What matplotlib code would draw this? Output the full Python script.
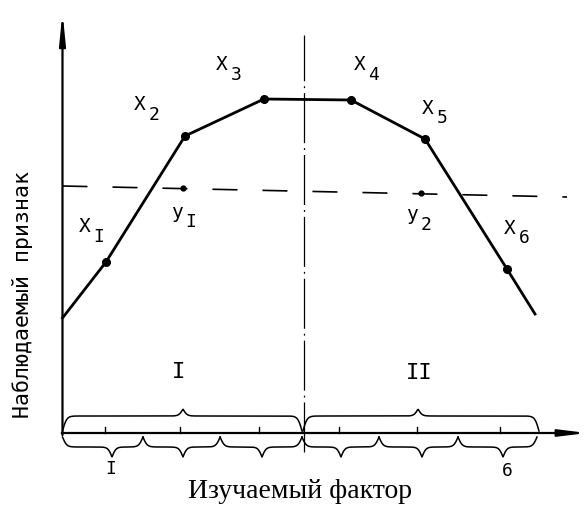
import numpy as np
import matplotlib
matplotlib.use("Agg")
import matplotlib.pyplot as plt
from matplotlib.transforms import offset_copy

# ---- data (in "factor" units along x, "trait" units along y) ----
curve_x = [0.0, 0.549, 1.547, 2.544, 3.643, 4.577, 5.612, 5.966]
curve_y = [2.875, 4.275, 7.425, 8.35, 8.325, 7.35, 4.1, 2.975]
point_x = curve_x[1:7]
point_y = curve_y[1:7]
point_names = ["X", "X", "X", "X", "X", "X"]
point_subs = ["I", "2", "3", "4", "5", "6"]
point_label_x = [0.284, 0.979, 2.014, 3.756, 4.615, 5.65]
point_label_y = [5.15, 8.2, 9.2, 9.2, 8.125, 5.125]

level_x = [0.0, 6.37]
level_y = [6.175, 5.9]
y_pts_x = [1.521, 4.527]
y_pts_y = [6.125, 6.0]
y_subs = ["I", "2"]
y_label_x = [1.446, 4.413]
y_label_y = [5.525, 5.45]

split_x = 3.049
split_y = [-0.475, 9.95]

tick_x = [0.537, 1.484, 2.481, 3.491, 4.476, 5.524]

upper_bounds = [(0.0, 3.024), (3.036, 6.016)]
upper_tips = [1.521, 4.489]
upper_names = ["I", "II"]
upper_label_pos = [(1.47, 1.525), (4.5, 1.5)]

lower_bounds = [0.0, 1.016, 1.99, 3.024, 3.996, 4.994, 5.991]
lower_tips = [0.625, 1.521, 2.519, 3.516, 4.539, 5.562]
lower_names = ["I", "6"]
lower_label_pos = [(0.612, -0.9), (5.612, -0.95)]

xlabel = "Изучаемый фактор"
ylabel = "Наблюдаемый признак"

# ---- figure ----
fig = plt.figure(figsize=(5.88, 5.15), dpi=100)
ax = fig.add_axes([0, 0, 1, 1])
ax.set_xlim(-0.789, 6.635)
ax.set_ylim(-2.05, 10.825)
ax.axis("off")

mono = "DejaVu Sans Mono"

# axes with arrows
ax.annotate("", xy=(0, 10.525), xytext=(0, -0.05),
            arrowprops=dict(arrowstyle="-|>,head_length=1.8,head_width=0.18",
                            lw=1.6, color="black", shrinkA=0, shrinkB=0))
ax.annotate("", xy=(6.62, 0), xytext=(-0.01, 0),
            arrowprops=dict(arrowstyle="-|>,head_length=1.6,head_width=0.2",
                            lw=1.6, color="black", shrinkA=0, shrinkB=0))

# ticks
for tx in tick_x:
    ax.plot([tx, tx], [0, 0.14], color="black", lw=1.0)

# dividing dash-dot line
ax.plot([split_x, split_x], split_y, color="black", lw=0.9,
        dashes=(40, 4, 1.5, 4))

# dashed level line
ax.plot(level_x, level_y, color="black", lw=1.2, dashes=(15, 15))

# main curve
ax.plot(curve_x, curve_y, color="black", lw=2.0, solid_joinstyle="round")
ax.plot(point_x, point_y, "o", color="black", ms=5.5)
ax.plot(y_pts_x, y_pts_y, "o", color="black", ms=3.5)

# labels X_i, y_i
def sub_label(x, y, main, sub, size=14, subsize=13):
    ax.text(x, y, main, fontsize=size, family=mono, ha="center", va="center")
    tr = offset_copy(ax.transData, fig=fig, x=10, y=-7, units="points")
    ax.text(x, y, sub, fontsize=subsize, family=mono, ha="center",
            va="center", transform=tr)

for lx, ly, nm, sb in zip(point_label_x, point_label_y, point_names, point_subs):
    sub_label(lx, ly, nm, sb)
for lx, ly, sb in zip(y_label_x, y_label_y, y_subs):
    sub_label(lx, ly, "y", sb)

# braces
def brace(x0, x1, xt, y0, p, q, beta=38.0, beta_tip=40.0):
    x = np.linspace(x0, x1, 400)
    left = x <= xt
    s_end = np.where(left,
                     2 / (1 + np.exp(-beta * (x - x0))) - 1,
                     2 / (1 + np.exp(-beta * (x1 - x))) - 1)
    s_tip = np.where(left,
                     2 / (1 + np.exp(-beta_tip * (x - xt))),
                     2 / (1 + np.exp(-beta_tip * (xt - x))))
    y = y0 + p * s_end + q * s_tip
    ax.plot(x, y, color="black", lw=1.1)

for (b0, b1), tip in zip(upper_bounds, upper_tips):
    brace(b0, b1, tip, 0.05, 0.375, 0.175)

for i, tip in enumerate(lower_tips):
    brace(lower_bounds[i], lower_bounds[i + 1], tip, -0.1, -0.25, -0.25)

for (lx, ly), nm in zip(upper_label_pos, upper_names):
    ax.text(lx, ly, nm, fontsize=16, family=mono, ha="center", va="center")
for (lx, ly), nm in zip(lower_label_pos, lower_names):
    ax.text(lx, ly, nm, fontsize=13, family=mono, ha="center", va="center")

# axis titles
ax.text(-0.511, 3.45, ylabel, fontsize=15.5, family=mono, rotation=90,
        ha="center", va="center")
ax.text(3.0, -1.475, xlabel, fontsize=20, family="Liberation Serif",
        ha="center", va="center")

fig.savefig("out.png", dpi=100)
